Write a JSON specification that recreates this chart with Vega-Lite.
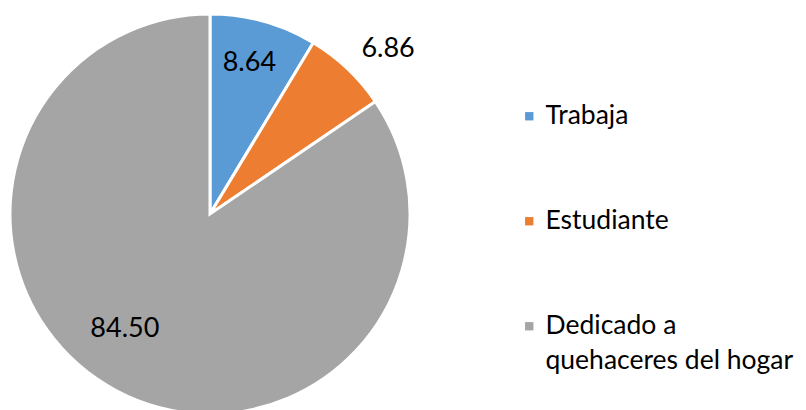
{
  "$schema": "https://vega.github.io/schema/vega-lite/v6.json",
  "width": 420,
  "height": 428,
  "autosize": "none",
  "padding": {"left": 0, "top": 0, "right": 386, "bottom": 0},
  "background": "white",
  "config": {"view": {"stroke": null}, "style": {"guide-label": {"lineHeight": 35}}},
  "data": {"values": [
    {"categoria": "Trabaja", "valor": 8.64, "orden": 1},
    {"categoria": "Estudiante", "valor": 6.86, "orden": 2},
    {"categoria": "Dedicado a quehaceres del hogar", "valor": 84.50, "orden": 3}
  ]},
  "encoding": {
    "theta": {"field": "valor", "type": "quantitative", "stack": true},
    "order": {"field": "orden", "type": "quantitative"}
  },
  "layer": [
    {
      "mark": {"type": "arc", "outerRadius": 200, "stroke": "white", "strokeWidth": 3},
      "encoding": {
        "color": {
          "field": "categoria", "type": "nominal",
          "scale": {"domain": ["Trabaja", "Estudiante", "Dedicado a quehaceres del hogar"], "range": ["#5B9BD5", "#ED7D31", "#A5A5A5"]},
          "legend": {
            "orient": "none", "legendX": 516, "legendY": 103,
            "title": null, "symbolType": "square", "symbolSize": 70,
            "symbolStrokeWidth": 0,
            "labelFont": "Lato", "labelFontSize": 26.5, "labelColor": "black",
            "labelLimit": 400, "rowPadding": 78, "labelOffset": 3,
            "labelBaseline": "middle",
            "labelExpr": "datum.label === 'Dedicado a quehaceres del hogar' ? ['Dedicado a', 'quehaceres del hogar'] : datum.label"
          }
        }
      }
    },
    {
      "mark": {"type": "text", "radius": 158, "dx": -3, "dy": 1, "font": "Lato", "fontSize": 27, "color": "black"},
      "encoding": {
        "detail": {"field": "categoria"},
        "text": {"condition": {"test": "datum.categoria === 'Trabaja'", "field": "valor", "type": "quantitative", "format": ".2f"}, "value": ""}
      }
    },
    {
      "mark": {"type": "text", "radius": 240, "dx": 13, "dy": 9, "font": "Lato", "fontSize": 27, "color": "black"},
      "encoding": {
        "detail": {"field": "categoria"},
        "text": {"condition": {"test": "datum.categoria === 'Estudiante'", "field": "valor", "type": "quantitative", "format": ".2f"}, "value": ""}
      }
    },
    {
      "mark": {"type": "text", "radius": 135, "dx": -22, "dy": -4, "font": "Lato", "fontSize": 27, "color": "black"},
      "encoding": {
        "detail": {"field": "categoria"},
        "text": {"condition": {"test": "datum.categoria === 'Dedicado a quehaceres del hogar'", "field": "valor", "type": "quantitative", "format": ".2f"}, "value": ""}
      }
    }
  ]
}
